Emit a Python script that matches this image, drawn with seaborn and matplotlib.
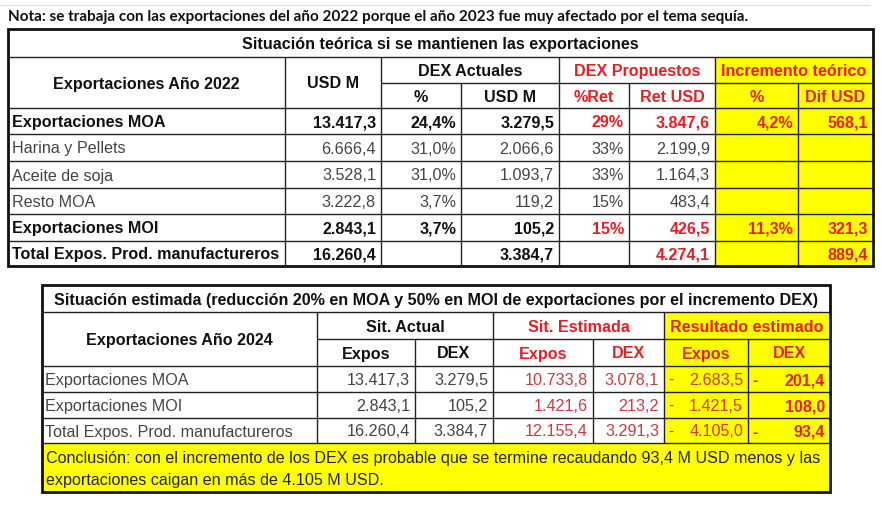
import matplotlib
matplotlib.use("Agg")
import matplotlib.pyplot as plt
from matplotlib.patches import Rectangle
import seaborn as sns

sns.set_theme(style="white")
plt.rcParams['font.family'] = ['Liberation Sans', 'DejaVu Sans']

# ---------------- data ----------------
note_text = "Nota: se trabaja con las exportaciones del año 2022 porque el año 2023 fue muy afectado por el tema sequía."

t1_title = "Situación teórica si se mantienen las exportaciones"
t1_labels = ["Exportaciones MOA", "Harina y Pellets", "Aceite de soja", "Resto MOA",
             "Exportaciones MOI", "Total Expos. Prod. manufactureros"]
t1_bold = [True, False, False, False, True, True]
t1_usd = [13417.3, 6666.4, 3528.1, 3222.8, 2843.1, 16260.4]
t1_dex_pct = [24.4, 31.0, 31.0, 3.7, 3.7, None]
t1_dex_usd = [3279.5, 2066.6, 1093.7, 119.2, 105.2, 3384.7]
t1_ret_pct = [29, 33, 33, 15, 15, None]
t1_ret_usd = [3847.6, 2199.9, 1164.3, 483.4, 426.5, 4274.1]
t1_inc_pct = [4.2, None, None, None, 11.3, None]
t1_dif_usd = [568.1, None, None, None, 321.3, 889.4]

t2_title = "Situación estimada (reducción 20% en MOA y 50% en MOI de exportaciones por el incremento DEX)"
t2_labels = ["Exportaciones MOA", "Exportaciones MOI", "Total Expos. Prod. manufactureros"]
t2_act_expos = [13417.3, 2843.1, 16260.4]
t2_act_dex = [3279.5, 105.2, 3384.7]
t2_est_expos = [10733.8, 1421.6, 12155.4]
t2_est_dex = [3078.1, 213.2, 3291.3]
t2_res_expos = [-2683.5, -1421.5, -4105.0]
t2_res_dex = [-201.4, 108.0, -93.4]
conclusion = ["Conclusión: con el incremento de los DEX es probable que se termine recaudando 93,4 M USD menos y las",
              "exportaciones caigan en más de 4.105 M USD."]

# ---------------- styles ----------------
RED = "#e61e25"
RED2 = "#cf3a3f"
RED3 = "#d8361f"
YEL = "#ffff00"
GRAY = "#444444"
BLK = "#111111"
FS = 11.6
DY = 1.5


def es(v, dec=1):
    s = f"{abs(v):,.{dec}f}"
    return s.replace(",", "X").replace(".", ",").replace("X", ".")


def pct(v, dec=1):
    return es(v, dec) + "%"


fig = plt.figure(figsize=(8.82, 5.07), dpi=100)
ax = fig.add_axes([0, 0, 1, 1])
ax.set_xlim(0, 882)
ax.set_ylim(507, 0)
ax.axis("off")


def rect(x0, y0, x1, y1, fc):
    ax.add_patch(Rectangle((x0, y0), x1 - x0, y1 - y0, facecolor=fc, edgecolor="none", zorder=1))


def hline(y, x0, x1, lw=1.0, c="#222222"):
    ax.plot([x0, x1], [y, y], color=c, lw=lw, zorder=3, solid_capstyle="butt")


def vline(x, y0, y1, lw=1.0, c="#222222"):
    ax.plot([x, x], [y0, y1], color=c, lw=lw, zorder=3, solid_capstyle="butt")


def txt(x, y, s, ha="center", color=BLK, bold=False, fs=FS, family=None):
    kw = {}
    if family:
        kw["family"] = family
    ax.text(x, y + DY, s, ha=ha, va="center", color=color, fontsize=fs,
            fontweight="bold" if bold else "normal", zorder=4, **kw)


# faint top line
hline(5, 0, 870, lw=0.8, c="#dddddd")
txt(8, 16, note_text, ha="left", bold=True, fs=10.95, family=["Lato", "DejaVu Sans"])

# ---------------- table 1 ----------------
cx = [8, 285, 381, 461, 559, 629, 715, 798, 873]
ry = [29, 57, 83, 108, 134, 161, 188, 214, 241, 266]

rect(cx[6], ry[1], cx[8], ry[-1], YEL)

# grid
for y in ry[3:-1]:
    hline(y, cx[0], cx[8])
hline(ry[1], cx[0], cx[8])
hline(ry[2], cx[2], cx[8])
for x in cx[1:-1]:
    if x in (cx[3], cx[5], cx[7]):
        vline(x, ry[2], ry[-1])
    else:
        vline(x, ry[1], ry[-1])
# outer
ax.add_patch(Rectangle((cx[0], ry[0]), cx[8] - cx[0], ry[-1] - ry[0], fill=False,
                       edgecolor="#111111", lw=2.0, zorder=5))

txt((cx[0] + cx[8]) / 2, (ry[0] + ry[1]) / 2, t1_title, bold=True)
txt((cx[0] + cx[1]) / 2, (ry[1] + ry[3]) / 2, "Exportaciones Año 2022", bold=True)
txt((cx[1] + cx[2]) / 2, (ry[1] + ry[3]) / 2, "USD M", bold=True)
txt((cx[2] + cx[4]) / 2, (ry[1] + ry[2]) / 2, "DEX Actuales", bold=True)
txt((cx[4] + cx[6]) / 2, (ry[1] + ry[2]) / 2, "DEX Propuestos", bold=True, color=RED)
txt((cx[6] + cx[8]) / 2, (ry[1] + ry[2]) / 2, "Incremento teórico", bold=True, color=RED)
hdr2 = ["%", "USD M", "%Ret", "Ret USD", "%", "Dif USD"]
hcol = [BLK, BLK, RED, RED, RED, RED]
for i, (h, c) in enumerate(zip(hdr2, hcol)):
    txt((cx[2 + i] + cx[3 + i]) / 2, (ry[2] + ry[3]) / 2, h, bold=True, color=c)

pad = 5
for r in range(len(t1_labels)):
    yc = (ry[3 + r] + ry[4 + r]) / 2
    b = t1_bold[r]
    base = BLK if b else GRAY
    red = RED if b else GRAY
    txt(cx[0] + 4, yc, t1_labels[r], ha="left", bold=b, color=base)
    txt(cx[2] - pad, yc, es(t1_usd[r]), ha="right", bold=b, color=base)
    if t1_dex_pct[r] is not None:
        txt(cx[3] - pad, yc, pct(t1_dex_pct[r]), ha="right", bold=b, color=base)
    txt(cx[4] - pad, yc, es(t1_dex_usd[r]), ha="right", bold=b, color=base)
    if t1_ret_pct[r] is not None:
        txt(cx[5] - pad, yc, pct(t1_ret_pct[r], 0), ha="right", bold=b, color=red)
    txt(cx[6] - pad, yc, es(t1_ret_usd[r]), ha="right", bold=b, color=red)
    if t1_inc_pct[r] is not None:
        txt(cx[7] - pad, yc, pct(t1_inc_pct[r]), ha="right", bold=True, color=RED)
    if t1_dif_usd[r] is not None:
        txt(cx[8] - pad, yc, es(t1_dif_usd[r]), ha="right", bold=True, color=RED)

# ---------------- table 2 ----------------
dx = [42, 317, 415, 493, 593, 664, 748, 830]
dy = [285, 312, 339, 366, 392, 418, 443, 492]

rect(dx[5], dy[1], dx[7], dy[6], YEL)
rect(dx[0], dy[6], dx[7], dy[7], YEL)

for y in dy[3:7]:
    hline(y, dx[0], dx[7])
hline(dy[1], dx[0], dx[7])
hline(dy[2], dx[1], dx[7])
for x in dx[1:-1]:
    if x in (dx[2], dx[4], dx[6]):
        vline(x, dy[2], dy[6])
    else:
        vline(x, dy[1], dy[6])
ax.add_patch(Rectangle((dx[0], dy[0]), dx[7] - dx[0], dy[7] - dy[0], fill=False,
                       edgecolor="#111111", lw=2.0, zorder=5))

txt((dx[0] + dx[7]) / 2, (dy[0] + dy[1]) / 2, t2_title, bold=True)
txt((dx[0] + dx[1]) / 2, (dy[1] + dy[3]) / 2, "Exportaciones Año 2024", bold=True)
txt((dx[1] + dx[3]) / 2, (dy[1] + dy[2]) / 2, "Sit. Actual", bold=True)
txt((dx[3] + dx[5]) / 2, (dy[1] + dy[2]) / 2, "Sit. Estimada", bold=True, color=RED)
txt((dx[5] + dx[7]) / 2, (dy[1] + dy[2]) / 2, "Resultado estimado", bold=True, color=RED)
h2 = ["Expos", "DEX", "Expos", "DEX", "Expos", "DEX"]
h2c = [BLK, BLK, RED, RED, RED, RED]
for i, (h, c) in enumerate(zip(h2, h2c)):
    txt((dx[1 + i] + dx[2 + i]) / 2, (dy[2] + dy[3]) / 2, h, bold=True, color=c)

for r in range(len(t2_labels)):
    yc = (dy[3 + r] + dy[4 + r]) / 2
    txt(dx[0] + 3, yc, t2_labels[r], ha="left", color=GRAY)
    txt(dx[2] - pad, yc, es(t2_act_expos[r]), ha="right", color=GRAY)
    txt(dx[3] - pad, yc, es(t2_act_dex[r]), ha="right", color=GRAY)
    txt(dx[4] - pad, yc, es(t2_est_expos[r]), ha="right", color=RED2)
    txt(dx[5] - pad, yc, es(t2_est_dex[r]), ha="right", color=RED2)
    if t2_res_expos[r] < 0:
        txt(dx[5] + 4, yc, "-", ha="left", color=RED3)
    txt(dx[6] - pad, yc, es(t2_res_expos[r]), ha="right", color=RED3)
    if t2_res_dex[r] < 0:
        txt(dx[6] + 4, yc, "-", ha="left", color=RED, bold=True)
    txt(dx[7] - pad, yc, es(t2_res_dex[r]), ha="right", color=RED, bold=True)

txt(dx[0] + 4, 457, conclusion[0], ha="left", color="#222222")
txt(dx[0] + 4, 479, conclusion[1], ha="left", color="#222222")

fig.savefig("out.png", dpi=100, facecolor="white")
